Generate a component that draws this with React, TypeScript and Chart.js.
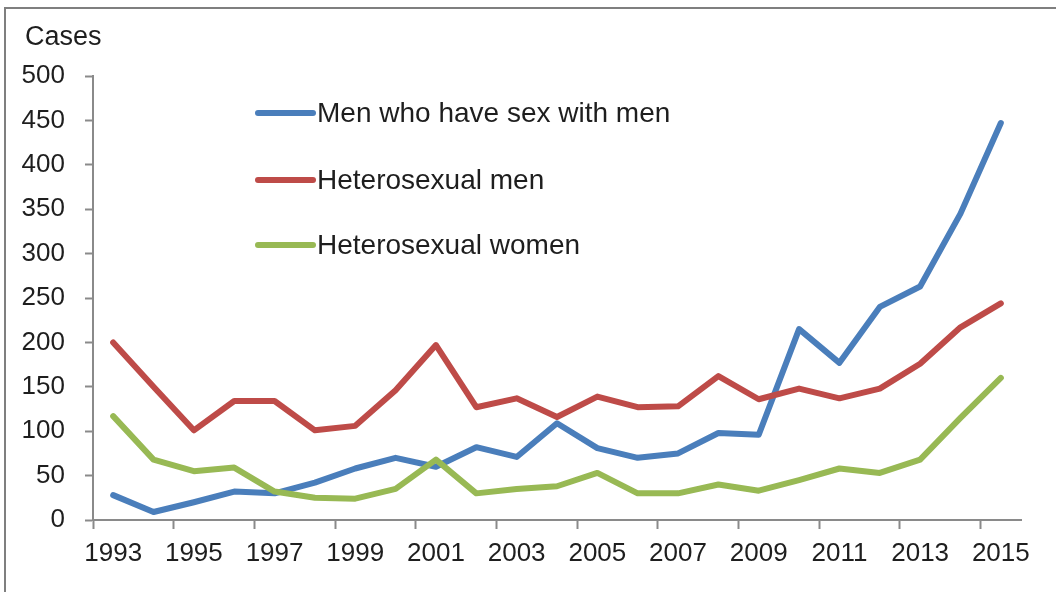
import React, { useEffect, useRef } from "react";
import { Chart, registerables } from "chart.js";

Chart.register(...registerables);

const years = [
  "1993", "1994", "1995", "1996", "1997", "1998", "1999", "2000", "2001", "2002", "2003", "2004",
  "2005", "2006", "2007", "2008", "2009", "2010", "2011", "2012", "2013", "2014", "2015",
];

const msm = [28, 9, 20, 32, 30, 42, 58, 70, 60, 82, 71, 109, 81, 70, 75, 98, 96, 215, 177, 240, 263, 345, 447];
const hetMen = [200, 150, 101, 134, 134, 101, 106, 146, 197, 127, 137, 116, 139, 127, 128, 162, 136, 148, 137, 148, 176, 217, 244];
const hetWomen = [117, 68, 55, 59, 32, 25, 24, 35, 68, 30, 35, 38, 53, 30, 30, 40, 33, 45, 58, 53, 68, 115, 160];

const seriesNames = ["Men who have sex with men", "Heterosexual men", "Heterosexual women"];
const seriesColors = ["#4A7EBB", "#BE4B48", "#98B954"];
const yAxisTitle = "Cases";

const FONT = "'Liberation Sans', Arial, sans-serif";
const TEXT = "#1e1e1e";
const AXIS = "#8a8a8a";

export default function App() {
  const ref = useRef<HTMLCanvasElement | null>(null);

  useEffect(() => {
    if (!ref.current) return;

    const decorations = {
      id: "decorations",
      beforeDraw(chart: any) {
        const ctx = chart.ctx;
        ctx.save();
        ctx.strokeStyle = "#7f7f7f";
        ctx.lineWidth = 2;
        ctx.beginPath();
        ctx.moveTo(5, 600);
        ctx.lineTo(5, 8);
        ctx.lineTo(1070, 8);
        ctx.stroke();
        ctx.fillStyle = TEXT;
        ctx.font = `27px ${FONT}`;
        ctx.textBaseline = "alphabetic";
        ctx.textAlign = "left";
        ctx.fillText(yAxisTitle, 25, 45);
        ctx.restore();
      },
      afterDatasetsDraw(chart: any) {
        const ctx = chart.ctx;
        const rows = [113, 180, 245];
        ctx.save();
        chart.data.datasets.forEach((ds: any, i: number) => {
          const y = rows[i];
          ctx.strokeStyle = ds.borderColor;
          ctx.lineWidth = 6;
          ctx.lineCap = "round";
          ctx.beginPath();
          ctx.moveTo(258, y);
          ctx.lineTo(313, y);
          ctx.stroke();
          ctx.fillStyle = TEXT;
          ctx.font = `28px ${FONT}`;
          ctx.textBaseline = "middle";
          ctx.textAlign = "left";
          ctx.fillText(ds.label, 317, y + 1);
        });
        ctx.restore();
      },
    };

    const chart = new Chart(ref.current, {
      type: "line",
      data: {
        labels: years,
        datasets: [
          { label: seriesNames[0], data: msm, borderColor: seriesColors[0], order: 3 },
          { label: seriesNames[1], data: hetMen, borderColor: seriesColors[1], order: 2 },
          { label: seriesNames[2], data: hetWomen, borderColor: seriesColors[2], order: 1 },
        ].map((d) => ({
          ...d,
          backgroundColor: d.borderColor,
          borderWidth: 6,
          pointRadius: 0,
          pointHoverRadius: 0,
          tension: 0,
          fill: false,
          borderCapStyle: "round" as const,
          borderJoinStyle: "round" as const,
        })),
      },
      plugins: [decorations],
      options: {
        responsive: false,
        animation: false,
        layout: { padding: { left: 0, top: 76, right: 35, bottom: 0 } },
        plugins: {
          legend: { display: false },
          tooltip: { enabled: false },
          title: { display: false },
        },
        scales: {
          x: {
            type: "category",
            offset: true,
            grid: {
              offset: true,
              drawOnChartArea: false,
              drawTicks: true,
              tickLength: 9,
              tickWidth: 2,
              tickColor: (c: any) => (typeof c.index === "number" && c.index % 2 === 0 ? AXIS : "rgba(0,0,0,0)"),
            },
            border: { display: true, color: AXIS, width: 2 },
            ticks: {
              autoSkip: false,
              maxRotation: 0,
              minRotation: 0,
              padding: 9,
              color: TEXT,
              font: { family: FONT, size: 26 },
              callback: (_v: any, i: number) => (i % 2 === 0 ? years[i] : ""),
            },
            afterFit: (s: any) => {
              s.height = 72;
            },
          },
          y: {
            min: 0,
            max: 500,
            grid: {
              drawOnChartArea: false,
              drawTicks: true,
              tickLength: 8,
              tickWidth: 2,
              tickColor: AXIS,
            },
            border: { display: true, color: AXIS, width: 2 },
            ticks: {
              stepSize: 50,
              padding: 20,
              color: TEXT,
              font: { family: FONT, size: 26 },
            },
            afterFit: (s: any) => {
              s.width = 93;
            },
          },
        },
      },
    });

    return () => chart.destroy();
  }, []);

  return (
    <div style={{ position: "absolute", left: 0, top: 0, width: 1056, height: 592, background: "#fff" }}>
      <canvas ref={ref} width={1056} height={592} style={{ display: "block" }} />
    </div>
  );
}
